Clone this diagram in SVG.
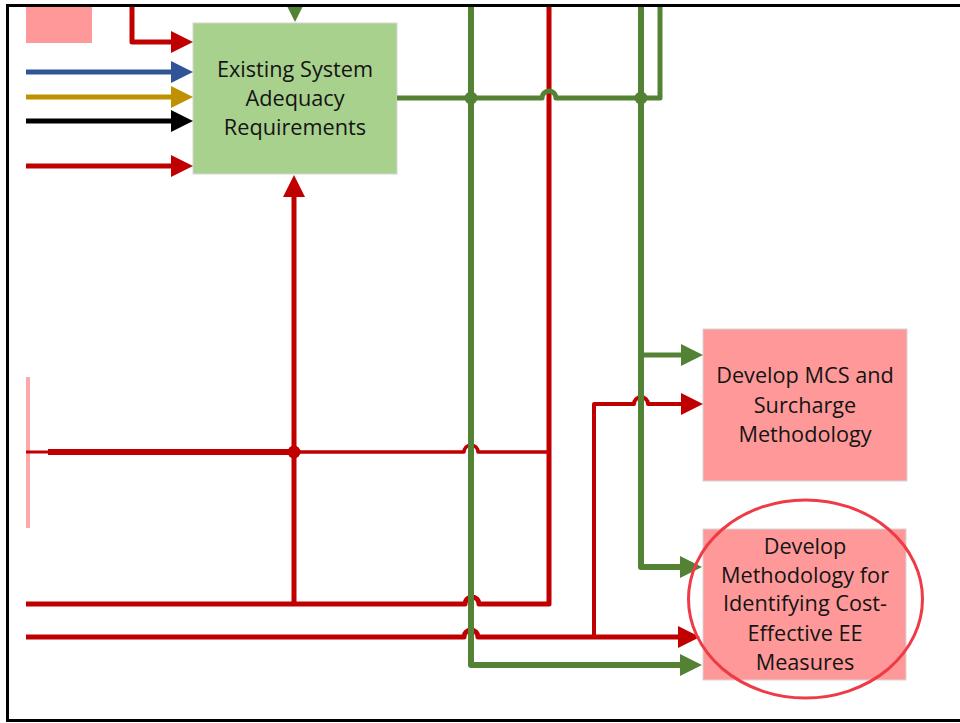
<svg xmlns="http://www.w3.org/2000/svg" width="960" height="723" viewBox="0 0 960 723">
<style>
.lbl{font-family:"Open Sans","Noto Sans","Liberation Sans",sans-serif;font-size:21.7px;fill:#141414;text-anchor:middle}
.ln{fill:none;stroke-linejoin:round;stroke-linecap:butt}
.r{stroke:#C00000}
.g{stroke:#548235}
.pink{fill:#FF9999;stroke:#D6D6D6;stroke-width:1}
</style>
<defs>
<clipPath id="frame"><rect x="8" y="5" width="952" height="715"/></clipPath>
<marker id="ar" markerUnits="userSpaceOnUse" markerWidth="22" markerHeight="22" refX="6" refY="11" orient="auto"><path d="M0,0 L22,11 L0,22 z" fill="#C00000"/></marker>
<marker id="ag" markerUnits="userSpaceOnUse" markerWidth="22" markerHeight="22" refX="6" refY="11" orient="auto"><path d="M0,0 L22,11 L0,22 z" fill="#548235"/></marker>
<marker id="ab" markerUnits="userSpaceOnUse" markerWidth="22" markerHeight="22" refX="6" refY="11" orient="auto"><path d="M0,0 L22,11 L0,22 z" fill="#2F5597"/></marker>
<marker id="ay" markerUnits="userSpaceOnUse" markerWidth="22" markerHeight="22" refX="6" refY="11" orient="auto"><path d="M0,0 L22,11 L0,22 z" fill="#BF9000"/></marker>
<marker id="ak" markerUnits="userSpaceOnUse" markerWidth="22" markerHeight="22" refX="6" refY="11" orient="auto"><path d="M0,0 L22,11 L0,22 z" fill="#000000"/></marker>
</defs>
<rect width="960" height="723" fill="#ffffff"/>
<g clip-path="url(#frame)">
<g id="nodes">
<g id="node-pink-topleft"><rect x="26" y="0" width="66" height="43" fill="#FF9999"/></g>
<g id="node-pink-left"><rect x="26" y="377" width="4" height="151" fill="#FFA8A8"/></g>
<g id="node-existing"><rect x="193" y="23" width="204" height="151" fill="#A9D18E" stroke="#D6D6D6" stroke-width="1"/>
<text class="lbl" x="295" y="77">Existing System</text>
<text class="lbl" x="295" y="106">Adequacy</text>
<text class="lbl" x="295" y="135">Requirements</text></g>
<g id="node-mcs"><rect class="pink" x="703" y="329" width="204" height="152"/>
<text class="lbl" x="805" y="383">Develop MCS and</text>
<text class="lbl" x="805" y="413">Surcharge</text>
<text class="lbl" x="805" y="442">Methodology</text></g>
<g id="node-ee"><rect class="pink" x="703" y="529" width="203" height="151"/>
<text class="lbl" x="805" y="554">Develop</text>
<text class="lbl" x="805" y="583">Methodology for</text>
<text class="lbl" x="805" y="611">Identifying Cost-</text>
<text class="lbl" x="805" y="641">Effective EE</text>
<text class="lbl" x="805" y="670">Measures</text></g>
</g>
<g id="connectors">
<path class="ln g" stroke-width="6" d="M295,-30 V6" marker-end="url(#ag)"/>
<path class="ln r" stroke-width="5" d="M132,0 V42 H177" marker-end="url(#ar)"/>
<path class="ln" stroke="#2F5597" stroke-width="5" d="M26,72 H177" marker-end="url(#ab)"/>
<path class="ln" stroke="#BF9000" stroke-width="5" d="M26,97 H177" marker-end="url(#ay)"/>
<path class="ln" stroke="#000" stroke-width="5" d="M26,121 H177" marker-end="url(#ak)"/>
<path class="ln r" stroke-width="5" d="M26,166 H177" marker-end="url(#ar)"/>
<path class="ln r" stroke-width="5" d="M549,0 V604 H479 a7,7 0 0 0 -14,0 H26"/>
<path class="ln r" stroke-width="5" d="M294,604 V191" marker-end="url(#ar)"/>
<path class="ln r" stroke-width="3" d="M26,452 H48"/>
<path class="ln r" stroke-width="6" d="M48,452 H294"/>
<path class="ln r" stroke-width="3.5" d="M294,452 H464 a7,7 0 0 1 14,0 H549"/>
<path class="ln r" stroke-width="5" d="M26,637 H464 a7,7 0 0 1 14,0 H684" marker-end="url(#ar)"/>
<path class="ln r" stroke-width="4" d="M594,637 V404 H634 a7,7 0 0 1 14,0 H687" marker-end="url(#ar)"/>
<path class="ln g" stroke-width="6" d="M471,0 V665 H686" marker-end="url(#ag)"/>
<path class="ln g" stroke-width="6" d="M641,0 V567 H686" marker-end="url(#ag)"/>
<path class="ln g" stroke-width="5" d="M641,355 H687" marker-end="url(#ag)"/>
<path class="ln g" stroke-width="5" d="M397,98 H542 a7,7 0 0 1 14,0 H660 V0"/>
<circle cx="471" cy="98" r="6.5" fill="#548235"/>
<circle cx="641" cy="98" r="6.5" fill="#548235"/>
<circle cx="294" cy="452" r="6.5" fill="#C00000"/>
</g>
<ellipse cx="805.5" cy="599" rx="117" ry="99" fill="none" stroke="#EE3B47" stroke-width="3"/>
</g>
<g id="frame-border" fill="none" stroke="#000" stroke-width="3">
<path d="M960,5.5 H7.5 V720.5 H960"/>
</g>
</svg>
